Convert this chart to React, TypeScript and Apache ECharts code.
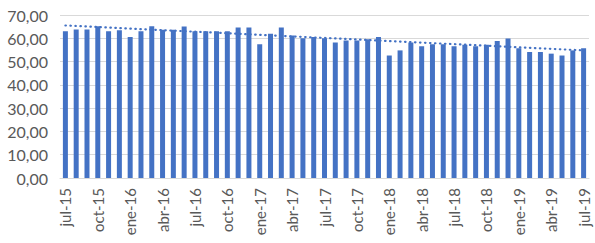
import React, { useEffect, useRef } from "react";
import * as echarts from "echarts";

const categories: string[] = [
  "jul-15","ago-15","sep-15","oct-15","nov-15","dic-15",
  "ene-16","feb-16","mar-16","abr-16","may-16","jun-16","jul-16","ago-16","sep-16","oct-16","nov-16","dic-16",
  "ene-17","feb-17","mar-17","abr-17","may-17","jun-17","jul-17","ago-17","sep-17","oct-17","nov-17","dic-17",
  "ene-18","feb-18","mar-18","abr-18","may-18","jun-18","jul-18","ago-18","sep-18","oct-18","nov-18","dic-18",
  "ene-19","feb-19","mar-19","abr-19","may-19","jun-19","jul-19",
];

const values: number[] = [
  63.0, 63.8, 63.8, 65.2, 63.0, 63.5, 60.6, 63.0, 65.2, 63.7, 63.7, 65.1,
  63.0, 63.0, 63.0, 63.0, 64.6, 64.6, 57.4, 62.0, 64.6, 61.2, 60.0, 60.6,
  60.0, 58.2, 59.1, 59.1, 59.6, 60.6, 52.6, 54.8, 58.2, 56.6, 57.4, 57.4,
  56.6, 57.2, 56.6, 57.2, 58.8, 59.9, 55.7, 54.1, 54.1, 53.4, 52.6, 54.8, 55.7,
];

const trendStart = 65.5;
const trendEnd = 54.8;

const yTicks = { min: 0, max: 70, interval: 10 };

export default function App() {
  const ref = useRef<HTMLDivElement>(null);
  useEffect(() => {
    if (!ref.current) return;
    const chart = echarts.init(ref.current, null, { renderer: "svg" });
    const font = "Lato";
    chart.setOption({
      animation: false,
      grid: { left: 60, right: 6, top: 15, bottom: 65 },
      xAxis: {
        type: "category",
        data: categories,
        axisLine: { lineStyle: { color: "#D9D9D9" } },
        axisTick: { interval: 2, lineStyle: { color: "#D9D9D9" }, length: 5 },
        axisLabel: {
          interval: 2,
          rotate: 90,
          margin: 10,
          color: "#595959",
          fontFamily: font,
          fontSize: 15,
        },
      },
      yAxis: {
        type: "value",
        min: yTicks.min,
        max: yTicks.max,
        interval: yTicks.interval,
        axisLine: { show: false },
        axisTick: { show: false },
        splitLine: { lineStyle: { color: "#D9D9D9" } },
        axisLabel: {
          color: "#595959",
          fontFamily: font,
          fontSize: 16,
          margin: 12,
          formatter: (v: number) => v.toFixed(2).replace(".", ","),
        },
      },
      series: [
        {
          type: "bar",
          data: values,
          barWidth: 5,
          itemStyle: { color: "#4472C4" },
          markLine: {
            symbol: ["none", "none"],
            silent: true,
            label: { show: false },
            lineStyle: {
              color: "#4472C4",
              width: 2.2,
              type: [0.5, 4.5],
              cap: "round",
            },
            data: [
              [
                { coord: [0, trendStart] },
                { coord: [categories.length - 1, trendEnd] },
              ],
            ],
          },
        },
      ],
    });
    return () => chart.dispose();
  }, []);
  return (
    <div
      ref={ref}
      style={{ position: "fixed", left: 0, top: 0, width: 595, height: 243, background: "#fff" }}
    />
  );
}
